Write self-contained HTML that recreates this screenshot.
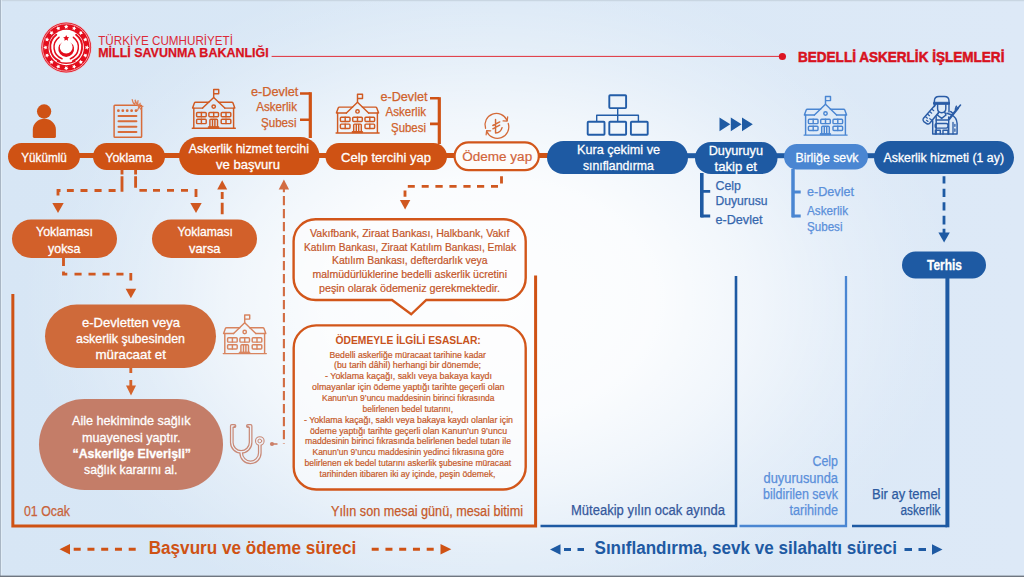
<!DOCTYPE html>
<html lang="tr">
<head>
<meta charset="utf-8">
<title>Bedelli Askerlik İşlemleri</title>
<style>
html,body{margin:0;padding:0;background:#d9e7f5;overflow:hidden;}
svg{display:block;}
text{font-family:"Liberation Sans",sans-serif;}
.w{fill:#fff;stroke:#fff;stroke-width:.3px;}
.o{fill:#c85a26;}
.b{fill:#2f5fa6;}
.lb{fill:#5a8fda;}
</style>
</head>
<body>
<svg width="1024" height="577" viewBox="0 0 1024 577">
<defs>
<linearGradient id="bgbase" x1="0" y1="0" x2="1" y2="0">
<stop offset="0" stop-color="#d7e6f5"/>
<stop offset="0.500" stop-color="#dae8f6"/>
<stop offset="1" stop-color="#dde9f7"/>
</linearGradient>
<radialGradient id="bg" cx="490" cy="300" r="470" gradientUnits="userSpaceOnUse" gradientTransform="translate(490 300) scale(1 0.720) translate(-490 -300)">
<stop offset="0" stop-color="#fff" stop-opacity="0.950"/>
<stop offset="0.350" stop-color="#fff" stop-opacity="0.880"/>
<stop offset="0.550" stop-color="#fff" stop-opacity="0.620"/>
<stop offset="0.750" stop-color="#fff" stop-opacity="0.280"/>
<stop offset="0.900" stop-color="#fff" stop-opacity="0.080"/>
<stop offset="1" stop-color="#fff" stop-opacity="0"/>
</radialGradient>
<symbol id="bld" viewBox="0 0 44 40" overflow="visible">
<g fill="none" stroke="currentColor" stroke-width="1.450" stroke-linejoin="round" stroke-linecap="round">
<path d="M21.700 8.600V0.700h5v4.200h-5"/>
<path d="M10.600 19.300L21.700 8.600L32.800 19.300"/>
<path d="M16.800 13.500H3.600Q2.700 13.500 2.400 14.300L0.600 19.300H10.600"/>
<path d="M26.600 13.500H39.800Q40.700 13.500 41 14.300L42.800 19.300H32.800"/>
<path d="M1.800 19.300V39.400M41.600 19.300V39.400M0.300 39.400H43.300"/>
<circle cx="21.700" cy="17.800" r="1.700"/>
<rect x="4.600" y="23.600" width="9.600" height="4.300" rx="0.900"/><path d="M9.400 23.600v4.300"/>
<rect x="16.900" y="23.600" width="9.600" height="4.300" rx="0.900"/><path d="M21.700 23.600v4.300"/>
<rect x="29.200" y="23.600" width="9.600" height="4.300" rx="0.900"/><path d="M34 23.600v4.300"/>
<rect x="4.600" y="30.500" width="9.600" height="4.300" rx="0.900"/><path d="M9.400 30.500v4.300"/>
<rect x="29.200" y="30.500" width="9.600" height="4.300" rx="0.900"/><path d="M34 30.500v4.300"/>
<path d="M17.900 37.500V31.500Q17.900 30.500 18.900 30.500H24.500Q25.500 30.500 25.500 31.500V37.500M20.500 30.500V37.500M22.900 30.500V37.500"/>
<path d="M16.700 37.900H26.800V39H16.700z" fill="currentColor" stroke-width="1"/>
</g>
</symbol>
</defs>
<rect width="1024" height="577" fill="url(#bgbase)"/>
<rect width="1024" height="577" fill="url(#bg)"/>
<!-- frame edges -->
<rect x="0" y="0" width="1024" height="1.2" fill="#c9d6e2"/>
<rect x="0" y="0" width="1" height="577" fill="#a9b6c4"/>
<rect x="1" y="0" width="1" height="577" fill="#e6eff8" fill-opacity="0.700"/>
<rect x="0" y="575.6" width="1024" height="1.4" fill="#6f7680"/>

<!-- HEADER -->
<g id="header">
<line x1="271.6" y1="56.4" x2="782" y2="56.4" stroke="#e0303a" stroke-width="1"/>
<circle cx="782.4" cy="56.5" r="3.6" fill="#dc1522"/>
<text x="98.2" y="44.6" font-size="12.7" fill="#dc2a38" textLength="134.8" lengthAdjust="spacingAndGlyphs">TÜRKİYE CUMHURİYETİ</text>
<text x="98.2" y="57.4" font-size="12.700" font-weight="bold" fill="#d8121e" stroke="#d8121e" stroke-width="0.250" textLength="170.5" lengthAdjust="spacingAndGlyphs">MİLLİ SAVUNMA BAKANLIĞI</text>
<text x="798" y="62.200" font-size="15" font-weight="bold" fill="#d8121e" stroke="#d8121e" stroke-width="0.550" textLength="206.4" lengthAdjust="spacingAndGlyphs">BEDELLİ ASKERLİK İŞLEMLERİ</text>
</g>

<!-- MAIN FLOW ROW -->
<g id="flow">
<!-- connectors -->
<rect x="78" y="153" width="18" height="5" fill="#cf5214"/>
<rect x="163" y="153" width="18" height="5" fill="#cf5214"/>
<rect x="317" y="153" width="11" height="5" fill="#cf5214"/>
<rect x="445" y="153" width="11" height="5" fill="#cf5214"/>
<rect x="538" y="153" width="11" height="5" fill="#cf5214"/>
<rect x="686" y="153.200" width="11" height="5" fill="#1e5aa3"/>
<rect x="775" y="153.200" width="11" height="5" fill="#1e5aa3"/>
<rect x="866" y="153.200" width="10" height="5" fill="#1e5aa3"/>
<!-- pills -->
<rect x="8" y="143" width="72" height="27" rx="13.5" fill="#cf5214"/>
<rect x="93" y="143" width="72" height="27" rx="13.5" fill="#cf5214"/>
<rect x="179" y="137" width="140.500" height="38" rx="19" fill="#cf5214"/>
<rect x="325.500" y="143" width="121.500" height="27" rx="13.5" fill="#cf5214"/>
<rect x="454.600" y="142.400" width="84.200" height="27.800" rx="13.900" fill="#fdfcfb" stroke="#d2561a" stroke-width="2.200"/>
<rect x="547" y="141" width="141" height="33" rx="16.5" fill="#1e5aa3"/>
<rect x="695" y="142" width="82.500" height="32" rx="16" fill="#1e5aa3"/>
<rect x="784" y="144" width="84" height="25.500" rx="12.75" fill="#4a86d2"/>
<rect x="874" y="141" width="140" height="33" rx="16.5" fill="#1e5aa3"/>
<!-- pill text -->
<text class="w" x="21.300" y="161.700" font-size="13.700" textLength="45.500" lengthAdjust="spacingAndGlyphs">Yükümlü</text>
<text class="w" x="105.300" y="161.800" font-size="13.700" textLength="47" lengthAdjust="spacingAndGlyphs">Yoklama</text>
<text class="w" x="188.700" y="153.1" font-size="13.700" textLength="120.300" lengthAdjust="spacingAndGlyphs">Askerlik hizmet tercihi</text>
<text class="w" x="216" y="169.3" font-size="13.700" textLength="64" lengthAdjust="spacingAndGlyphs">ve başvuru</text>
<text class="w" x="341" y="161.6" font-size="13.700" textLength="90" lengthAdjust="spacingAndGlyphs">Celp tercihi yap</text>
<text x="462.200" y="161.400" font-size="13.700" fill="#d2643a" stroke="#d2643a" stroke-width="0.200" textLength="70" lengthAdjust="spacingAndGlyphs">Ödeme yap</text>
<text class="w" x="577" y="153.6" font-size="13.700" textLength="83" lengthAdjust="spacingAndGlyphs">Kura çekimi ve</text>
<text class="w" x="583" y="170.1" font-size="13.700" textLength="70.700" lengthAdjust="spacingAndGlyphs">sınıflandırma</text>
<text class="w" x="708.700" y="155.1" font-size="13.700" textLength="54.300" lengthAdjust="spacingAndGlyphs">Duyuruyu</text>
<text class="w" x="714.500" y="170.6" font-size="13.700" textLength="42.500" lengthAdjust="spacingAndGlyphs">takip et</text>
<text class="w" x="795.500" y="161.6" font-size="13.700" textLength="63" lengthAdjust="spacingAndGlyphs">Birliğe sevk</text>
<text class="w" x="883.500" y="161.6" font-size="13.700" textLength="120.500" lengthAdjust="spacingAndGlyphs">Askerlik hizmeti (1 ay)</text>
</g>

<!-- BRACKETS + SIDE LABELS -->
<g id="brackets">
<path d="M300 93.500H310.300M300 119.800H310" fill="none" stroke="#cf5214" stroke-width="2.600"/><path d="M310.300 92.200V138" fill="none" stroke="#cf5214" stroke-width="3.200"/>
<path d="M430 98.300H439.300M430 123.900H439" fill="none" stroke="#cf5214" stroke-width="2.600"/><path d="M439.300 97.200V144" fill="none" stroke="#cf5214" stroke-width="3.200"/>
<path d="M701.800 173V217.400" fill="none" stroke="#1e5aa3" stroke-width="3.600"/><path d="M701 191.400H710.200M701 216H710.200" fill="none" stroke="#1e5aa3" stroke-width="2.900"/>
<path d="M793 169V217.400" fill="none" stroke="#4a86d2" stroke-width="3.500"/><path d="M792 192H800.700M792 216H800.700" fill="none" stroke="#4a86d2" stroke-width="2.900"/>
<g font-size="12" fill="#d0622c" stroke="#d0622c" stroke-width="0.250">
<text x="251" y="95.800" textLength="47.400" lengthAdjust="spacingAndGlyphs">e-Devlet</text>
<text x="256.200" y="111" textLength="40.800" lengthAdjust="spacingAndGlyphs">Askerlik</text>
<text x="260.900" y="126.600" textLength="35.600" lengthAdjust="spacingAndGlyphs">Şubesi</text>
<text x="380.500" y="101" textLength="47" lengthAdjust="spacingAndGlyphs">e-Devlet</text>
<text x="385.500" y="115.500" textLength="40.500" lengthAdjust="spacingAndGlyphs">Askerlik</text>
<text x="391" y="132.200" textLength="35" lengthAdjust="spacingAndGlyphs">Şubesi</text>
</g>
<g font-size="12.500" fill="#3566ad" stroke="#3566ad" stroke-width="0.250">
<text x="715.500" y="189.500" textLength="25.500" lengthAdjust="spacingAndGlyphs">Celp</text>
<text x="715.500" y="205" textLength="52" lengthAdjust="spacingAndGlyphs">Duyurusu</text>
<text x="715.500" y="223.500" textLength="47" lengthAdjust="spacingAndGlyphs">e-Devlet</text>
</g>
<g font-size="12.500" fill="#5a8fda" stroke="#5a8fda" stroke-width="0.250">
<text x="807" y="196" textLength="47" lengthAdjust="spacingAndGlyphs">e-Devlet</text>
<text x="807" y="215" textLength="41" lengthAdjust="spacingAndGlyphs">Askerlik</text>
<text x="807" y="230.500" textLength="35.500" lengthAdjust="spacingAndGlyphs">Şubesi</text>
</g>
</g>

<!-- DASHED ARROWS (orange) -->
<g id="dashes" fill="none" stroke="#d05820" stroke-width="2.850">
<path d="M122 169.500V174.400M122 176.300V191.800M108.600 190.500H115.600M94.500 190.500H101.600M80.500 190.500H87.500M66.900 190.500H73.800M60.500 190.500H56.700M58 189.200V195.600"/>
<path d="M135.600 169.500V174.400M135.600 176.300V187.700M139.400 190.400H146.900M153 190.400H160M167 190.400H174M181 190.400H188M196 189V197"/>
<path d="M222.200 192V199M222.200 202.700V214.300"/>
<path d="M501.500 176.200V183.400M491 186.300H498M477 186.300H484.200M463.400 186.300H470.600M449.400 186.300H456.600M435.400 186.300H442.700M421.700 186.300H428.700M407.800 186.300H414.800M405 190.400V196.700"/>
<path d="M63.500 258V265.900M63.500 271.600V275.400M62.200 274.100H67.300M74.500 274.100H81.600M88.500 274.100H95.600M102.500 274.100H109.600M116.400 274.100H123.500M130.800 273.100V280.500"/>
<path d="M130.800 368V372.900M130.800 379.900V386.500" stroke="#d4632b"/>
</g>
<path d="M283.900 189V443.400" fill="none" stroke="#d26c42" stroke-width="2.100" stroke-dasharray="9.200 3.800" stroke-dashoffset="6"/>
<g id="arrowheads" fill="#d05820">
<path d="M52.300 203H63.700L58 213z"/>
<path d="M190.300 203H201.700L196 213z"/>
<path d="M222.200 180.300L227.200 189.600H217.200z"/>
<path d="M283.900 179.600L289.100 189.400H278.700z" fill="#d26c42"/>
<path d="M399.900 199.900H410.300L405.100 209.500z"/>
<path d="M125.600 288.700H136.200L130.900 298.300z"/>
<path d="M126 385.400H136L131 395.500z" fill="#d4632b"/>
</g>

<!-- SECONDARY PILLS -->
<g id="pills2">
<rect x="12" y="219.500" width="105" height="38.500" rx="19.250" fill="#d2602a"/>
<rect x="152" y="219.500" width="105" height="38.500" rx="19.250" fill="#d2602a"/>
<rect x="45" y="304.500" width="171" height="63.500" rx="31.750" fill="#cf6a3a"/>
<rect x="39" y="399" width="184" height="91" rx="45.500" fill="#c47d68"/>
<g class="w" font-size="13.500">
<text x="36" y="236" textLength="57" lengthAdjust="spacingAndGlyphs">Yoklaması</text>
<text x="48" y="253" textLength="32.500" lengthAdjust="spacingAndGlyphs">yoksa</text>
<text x="177.500" y="236" textLength="55.500" lengthAdjust="spacingAndGlyphs">Yoklaması</text>
<text x="189" y="253" textLength="31.500" lengthAdjust="spacingAndGlyphs">varsa</text>
<text x="82" y="327" textLength="98" lengthAdjust="spacingAndGlyphs">e-Devletten veya</text>
<text x="76" y="343" textLength="109" lengthAdjust="spacingAndGlyphs">askerlik şubesinden</text>
<text x="95.500" y="359" textLength="70.500" lengthAdjust="spacingAndGlyphs">müracaat et</text>
<text x="72" y="425" textLength="118.500" lengthAdjust="spacingAndGlyphs">Aile hekiminde sağlık</text>
<text x="82" y="442" textLength="98.500" lengthAdjust="spacingAndGlyphs">muayenesi yaptır.</text>
<text x="72.500" y="457.500" font-weight="bold" textLength="118.500" lengthAdjust="spacingAndGlyphs">“Askerliğe Elverişli”</text>
<text x="84" y="474" textLength="93.500" lengthAdjust="spacingAndGlyphs">sağlık kararını al.</text>
</g>
</g>

<!-- TERHIS -->
<g id="terhis">
<path d="M944 176.200V183.500M944 188.700V197M944 202.200V210.500M944 215.700V224.500M944 228.800V233" fill="none" stroke="#1e5aa3" stroke-width="2.800"/>
<path d="M938.400 232.400H949.800L944.100 242.400z" fill="#1e5aa3"/>
<rect x="945.400" y="277" width="4" height="250.300" fill="#1e5aa3"/>
<rect x="902" y="251.500" width="84" height="27" rx="13.500" fill="#1e5aa3"/>
<text class="w" x="927" y="269.500" font-size="14" font-weight="bold" textLength="35" lengthAdjust="spacingAndGlyphs">Terhis</text>
</g>

<!-- SPEECH BUBBLE + INFO BOX -->
<g id="boxes">
<path d="M315.6 219.3H503.7A22 22 0 0 1 525.7 241.3V278.0A22 22 0 0 1 503.7 300.0H426.300L411.200 314.300L392 300.0H315.6A22 22 0 0 1 293.6 278.0V241.3A22 22 0 0 1 315.6 219.3z" fill="#fdfdfe" fill-opacity="0.550" stroke="#d2561a" stroke-width="2.400" stroke-linejoin="miter"/>
<rect x="293.700" y="325.400" width="232" height="164.100" rx="22.500" fill="#fdfdfe" fill-opacity="0.550" stroke="#d2561a" stroke-width="2.400"/>
<g font-size="11.500" fill="#c4562a" stroke="#c4562a" stroke-width="0.220">
<text x="310.0" y="237.0" textLength="199.5" lengthAdjust="spacingAndGlyphs">Vakıfbank, Ziraat Bankası, Halkbank, Vakıf</text>
<text x="304.0" y="250.5" textLength="212.0" lengthAdjust="spacingAndGlyphs">Katılım Bankası, Ziraat Katılım Bankası, Emlak</text>
<text x="332.0" y="264.0" textLength="155.5" lengthAdjust="spacingAndGlyphs">Katılım Bankası, defterdarlık veya</text>
<text x="312.5" y="278.0" textLength="194.5" lengthAdjust="spacingAndGlyphs">malmüdürlüklerine bedelli askerlik ücretini</text>
<text x="319.0" y="292.0" textLength="181.0" lengthAdjust="spacingAndGlyphs">peşin olarak ödemeniz gerekmektedir.</text>
</g>
<text x="335.500" y="344" font-size="11.200" font-weight="bold" fill="#c8531c" textLength="145.300" lengthAdjust="spacingAndGlyphs">ÖDEMEYLE İLGİLİ ESASLAR:</text>
<g font-size="9.200" fill="#c65a2a" stroke="#c65a2a" stroke-width="0.220">
<text x="329.5" y="357.5" textLength="156.5" lengthAdjust="spacingAndGlyphs">Bedelli askerliğe müracaat tarihine kadar</text>
<text x="334.0" y="368.2" textLength="147.0" lengthAdjust="spacingAndGlyphs">(bu tarih dâhil) herhangi bir dönemde;</text>
<text x="325.0" y="379.0" textLength="167.0" lengthAdjust="spacingAndGlyphs">- Yoklama kaçağı, saklı veya bakaya kaydı</text>
<text x="312.0" y="390.0" textLength="192.5" lengthAdjust="spacingAndGlyphs">olmayanlar için ödeme yaptığı tarihte geçerli olan</text>
<text x="322.0" y="401.0" textLength="172.5" lengthAdjust="spacingAndGlyphs">Kanun’un 9’uncu maddesinin birinci fıkrasında</text>
<text x="362.5" y="412.0" textLength="90.5" lengthAdjust="spacingAndGlyphs">belirlenen bedel tutarını,</text>
<text x="304.0" y="422.7" textLength="209.0" lengthAdjust="spacingAndGlyphs">- Yoklama kaçağı, saklı veya bakaya kaydı olanlar için</text>
<text x="310.0" y="433.8" textLength="197.0" lengthAdjust="spacingAndGlyphs">ödeme yaptığı tarihte geçerli olan Kanun’un 9’uncu</text>
<text x="305.0" y="444.4" textLength="206.0" lengthAdjust="spacingAndGlyphs">maddesinin birinci fıkrasında belirlenen bedel tutarı ile</text>
<text x="312.5" y="455.1" textLength="191.5" lengthAdjust="spacingAndGlyphs">Kanun’un 9’uncu maddesinin yedinci fıkrasına göre</text>
<text x="304.5" y="466.3" textLength="206.5" lengthAdjust="spacingAndGlyphs">belirlenen ek bedel tutarını askerlik şubesine müracaat</text>
<text x="319.5" y="477.0" textLength="176.0" lengthAdjust="spacingAndGlyphs">tarihinden itibaren iki ay içinde, peşin ödemek,</text>
</g>
</g>

<!-- FRAMES -->
<g id="frames" fill="none">
<path d="M12.850 294V526H535.600V275.600" stroke="#cf5214" stroke-width="3"/>
<path d="M540.500 526H736V276" stroke="#1e5aa3" stroke-width="2.600"/>
<path d="M739.500 526H846V276" stroke="#4a86d2" stroke-width="2.300"/>
<path d="M852 526H947" stroke="#1e5aa3" stroke-width="2.600"/>
</g>

<!-- BOTTOM LABELS -->
<g id="labels">
<text x="24" y="515.500" font-size="14" fill="#c8623a" stroke="#c8623a" stroke-width="0.250" textLength="46" lengthAdjust="spacingAndGlyphs">01 Ocak</text>
<text x="331" y="515.500" font-size="14" fill="#c65a2a" stroke="#c65a2a" stroke-width="0.250" textLength="192" lengthAdjust="spacingAndGlyphs">Yılın son mesai günü, mesai bitimi</text>
<text x="571" y="515" font-size="14" fill="#35589c" stroke="#35589c" stroke-width="0.250" textLength="154" lengthAdjust="spacingAndGlyphs">Müteakip yılın ocak ayında</text>
<g font-size="14" fill="#5a8fda" stroke="#5a8fda" stroke-width="0.250">
<text x="812.500" y="466" textLength="25.500" lengthAdjust="spacingAndGlyphs">Celp</text>
<text x="763.500" y="482.500" textLength="74.500" lengthAdjust="spacingAndGlyphs">duyurusunda</text>
<text x="763" y="499" textLength="75" lengthAdjust="spacingAndGlyphs">bildirilen sevk</text>
<text x="789.500" y="515" textLength="48.500" lengthAdjust="spacingAndGlyphs">tarihinde</text>
</g>
<g font-size="14" fill="#2c5aa0" stroke="#2c5aa0" stroke-width="0.250">
<text x="872" y="499" textLength="68.500" lengthAdjust="spacingAndGlyphs">Bir ay temel</text>
<text x="900.500" y="515" textLength="40" lengthAdjust="spacingAndGlyphs">askerlik</text>
</g>
<!-- bottom headings -->
<text x="148.700" y="553.800" font-size="18" font-weight="bold" fill="#cf5214" textLength="207.500" lengthAdjust="spacingAndGlyphs">Başvuru ve ödeme süreci</text>
<text x="594.500" y="553.800" font-size="18" font-weight="bold" fill="#1e5aa3" textLength="302.500" lengthAdjust="spacingAndGlyphs">Sınıflandırma, sevk ve silahaltı süreci</text>
<path d="M59.500 549.300L70 544V554.600z" fill="#cf5214"/>
<path d="M73.700 549.300H136" stroke="#cf5214" stroke-width="3" stroke-dasharray="7 6.750" fill="none"/>
<path d="M371.700 549.300H434" stroke="#cf5214" stroke-width="3" stroke-dasharray="7 6.750" fill="none"/>
<path d="M451.300 549.300L440.500 544V554.600z" fill="#cf5214"/>
<path d="M550 549.500L560.500 544.200V554.800z" fill="#1e5aa3"/>
<path d="M564 549.500H584" stroke="#1e5aa3" stroke-width="3" stroke-dasharray="7 6.500" fill="none"/>
<path d="M904.500 549.500H926" stroke="#1e5aa3" stroke-width="3" stroke-dasharray="7.500 6.500" fill="none"/>
<path d="M942.500 549.500L932 544.200V554.800z" fill="#1e5aa3"/>
</g>

<!-- LOGO -->
<g id="logo">
<circle cx="66.200" cy="47.500" r="25.600" fill="#f5b5ba" fill-opacity="0.55"/>
<circle cx="66.200" cy="47.500" r="24.900" fill="#e30d1c"/>
<circle cx="66.200" cy="47.500" r="23.700" fill="none" stroke="#fbd3d6" stroke-width="0.700"/>
<circle cx="66.200" cy="47.500" r="17.700" fill="#fff"/>
<g fill="#fff"><polygon points="66.20,24.50 66.88,25.87 68.39,26.09 67.29,27.16 67.55,28.66 66.20,27.95 64.85,28.66 65.11,27.16 64.01,26.09 65.52,25.87"/><polygon points="75.00,26.25 75.10,27.77 76.41,28.56 75.00,29.12 74.66,30.61 73.68,29.44 72.16,29.58 72.98,28.29 72.37,26.88 73.85,27.26"/><polygon points="82.46,31.24 81.97,32.68 82.89,33.91 81.36,33.89 80.48,35.13 80.02,33.68 78.57,33.22 79.81,32.34 79.79,30.81 81.02,31.73"/><polygon points="87.45,38.70 86.44,39.85 86.82,41.33 85.41,40.72 84.12,41.54 84.26,40.02 83.09,39.04 84.58,38.70 85.14,37.29 85.93,38.60"/><polygon points="89.20,47.50 87.83,48.18 87.61,49.69 86.54,48.59 85.04,48.85 85.75,47.50 85.04,46.15 86.54,46.41 87.61,45.31 87.83,46.82"/><polygon points="87.45,56.30 85.93,56.40 85.14,57.71 84.58,56.30 83.09,55.96 84.26,54.98 84.12,53.46 85.41,54.28 86.82,53.67 86.44,55.15"/><polygon points="82.46,63.76 81.02,63.27 79.79,64.19 79.81,62.66 78.57,61.78 80.02,61.32 80.48,59.87 81.36,61.11 82.89,61.09 81.97,62.32"/><polygon points="75.00,68.75 73.85,67.74 72.37,68.12 72.98,66.71 72.16,65.42 73.68,65.56 74.66,64.39 75.00,65.88 76.41,66.44 75.10,67.23"/><polygon points="66.20,70.50 65.52,69.13 64.01,68.91 65.11,67.84 64.85,66.34 66.20,67.05 67.55,66.34 67.29,67.84 68.39,68.91 66.88,69.13"/><polygon points="57.40,68.75 57.30,67.23 55.99,66.44 57.40,65.88 57.74,64.39 58.72,65.56 60.24,65.42 59.42,66.71 60.03,68.12 58.55,67.74"/><polygon points="49.94,63.76 50.43,62.32 49.51,61.09 51.04,61.11 51.92,59.87 52.38,61.32 53.83,61.78 52.59,62.66 52.61,64.19 51.38,63.27"/><polygon points="44.95,56.30 45.96,55.15 45.58,53.67 46.99,54.28 48.28,53.46 48.14,54.98 49.31,55.96 47.82,56.30 47.26,57.71 46.47,56.40"/><polygon points="43.20,47.50 44.57,46.82 44.79,45.31 45.86,46.41 47.36,46.15 46.65,47.50 47.36,48.85 45.86,48.59 44.79,49.69 44.57,48.18"/><polygon points="44.95,38.70 46.47,38.60 47.26,37.29 47.82,38.70 49.31,39.04 48.14,40.02 48.28,41.54 46.99,40.72 45.58,41.33 45.96,39.85"/><polygon points="49.94,31.24 51.38,31.73 52.61,30.81 52.59,32.34 53.83,33.22 52.38,33.68 51.92,35.13 51.04,33.89 49.51,33.91 50.43,32.68"/><polygon points="57.40,26.25 58.55,27.26 60.03,26.88 59.42,28.29 60.24,29.58 58.72,29.44 57.74,30.61 57.40,29.12 55.99,28.56 57.30,27.77"/></g>
<g fill="none" stroke="#e30d1c" stroke-linecap="round">
<path d="M56.300 34.800A15.300 15.300 0 0 0 59.500 61" stroke-width="1.900"/>
<path d="M59 37.300A12.300 12.300 0 0 0 62 58.700" stroke-width="1.500"/>
<path d="M76.100 34.800A15.300 15.300 0 0 1 72.900 61" stroke-width="1.900"/>
<path d="M73.400 37.300A12.300 12.300 0 0 1 70.400 58.700" stroke-width="1.500"/>
<path d="M57.500 61.300Q66.200 65.300 74.900 61.300" stroke-width="1.400"/>
</g>
<path d="M62.280 42.140A7.900 7.900 0 1 0 70.120 42.140A6.400 6.400 0 1 1 62.280 42.140z" fill="#e30d1c"/>
<g fill="#e30d1c"><polygon points="66.20,35.00 67.14,36.91 69.24,37.21 67.72,38.69 68.08,40.79 66.20,39.80 64.32,40.79 64.68,38.69 63.16,37.21 65.26,36.91"/></g>
</g>

<!-- ICONS -->
<g id="icons">
<!-- person -->
<circle cx="44.100" cy="111.500" r="7.150" fill="#cf5214"/>
<path d="M32.800 136.600V129.500A11.550 10.700 0 0 1 55.900 129.500V136.600Q55.900 137.900 54.600 137.900H34.100Q32.800 137.900 32.800 136.600z" fill="#cf5214"/>
<!-- document -->
<g fill="none" stroke="#d86c3a" stroke-linecap="round">
<rect x="114.100" y="105.300" width="27.500" height="32" rx="0.800" stroke-width="1.500"/>
<path d="M118.400 110.700H136.100" stroke-width="2.800" stroke-dasharray="0.010 4.390"/>
<path d="M118.500 115.900H136.400M118.500 121.300H136.400M118.500 126.700H136.400M118.500 132H136.400" stroke-width="2"/>
<path d="M132.200 99.600Q132.800 103 134.600 104.600Q136 102 135 99.800Q136.500 104 138.300 106.200L141.300 109.600M138 100.600Q137 104.500 139 106Q141 107 143 106.300M140.200 103.200L137.600 110.400" stroke-width="1.200" stroke="#dc7c52"/>
</g>
<!-- buildings -->
<use href="#bld" x="192" y="88.800" width="44" height="40" color="#d05a22"/>
<use href="#bld" x="335.800" y="93.600" width="44" height="40" color="#d05a22"/>
<use href="#bld" x="223" y="314.200" width="44" height="40" color="#d8845f"/>
<use href="#bld" x="803.800" y="95.700" width="44" height="40" color="#4a86d2"/>
<!-- lira -->
<g transform="translate(497 125) scale(0.970) translate(-497 -125) translate(0 0.900)" fill="none" stroke="#d46a38" stroke-width="1.300" stroke-linecap="round" stroke-linejoin="round">
<path d="M485.200 127.500A11.800 11.800 0 0 1 507.300 119.300"/>
<path d="M508.600 122.500A11.800 11.800 0 0 1 486.500 130.700"/>
<path d="M503.300 119.900L507.500 120L508 115.800"/>
<path d="M490.500 130.100L486.300 130L485.800 134.200"/>
<path d="M495.500 118.500V132.300Q500.800 132 502.200 126.800M492.700 124.600L499.800 120.900M492.700 128L499.800 124.300" stroke-width="1.500"/>
</g>
<!-- org chart -->
<g fill="none" stroke="#235da8" stroke-width="1.900" stroke-linejoin="round">
<rect x="609.300" y="95.200" width="16.800" height="12.900" rx="0.800"/>
<rect x="587.700" y="121.800" width="16.800" height="12.900" rx="0.800"/>
<rect x="609.300" y="121.800" width="16.800" height="12.900" rx="0.800"/>
<rect x="630.900" y="121.800" width="16.800" height="12.900" rx="0.800"/>
<path d="M617.700 108.200V121.600M596.700 121.600V115.200H638.400V121.600" stroke-width="1.400"/>
</g>
<!-- triple arrows -->
<path d="M719.500 117.500L730.300 124.300L719.500 131.200zM730.800 117.500L741.600 124.300L730.800 131.200zM742 117.500L752.800 124.300L742 131.200z" fill="#1e5aa3"/>
<!-- stethoscope -->
<g fill="none" stroke-linecap="round" stroke-linejoin="round">
<g stroke="#c98a78">
<path d="M234.500 426H231.800V442.500A9.400 9.400 0 0 0 250.600 442.500V426H247.900" stroke-width="3.800"/>
<path d="M241.200 452V453A9.300 9.300 0 0 0 259.800 453V445" stroke-width="3.800"/>
<circle cx="259.800" cy="441" r="4.300" stroke-width="1.100" fill="#edf2f9"/>
</g>
<g stroke="#edf2f9">
<path d="M234.500 426H231.800V442.500A9.400 9.400 0 0 0 250.600 442.500V426H247.900" stroke-width="1.300"/>
<path d="M241.200 452V453A9.300 9.300 0 0 0 259.800 453V443" stroke-width="1.300"/>
</g>
<circle cx="259.800" cy="441" r="1.900" stroke="#c98a78" stroke-width="1"/>
<circle cx="234.600" cy="426.600" r="1.100" fill="#c98a78"/>
<circle cx="247.800" cy="426.600" r="1.100" fill="#c98a78"/>
</g>
<circle cx="272" cy="444" r="2.100" fill="#cc7f68"/>
<path d="M272 444H277.500" stroke="#cc7f68" stroke-width="1.600"/>
<!-- soldier -->
<g fill="none" stroke="#2a5ca6" stroke-width="1.450" stroke-linejoin="round" stroke-linecap="round">
<path d="M934.400 102.400V100.900Q934.400 96.500 939 96.500H944.400Q949 96.500 949 100.900V102.400"/>
<path d="M933.900 102.300H949.500V104.300H933.900z" fill="#2a5ca6" stroke-width="1"/>
<path d="M937.600 104.600V108.600Q937.600 112.700 941.700 112.700Q945.800 112.700 945.800 108.600V104.600"/>
<path d="M949 104.400V112M934.500 104.400V106.500"/>
<path d="M938.600 112.400L937.300 115L941.700 118.400L946 115L944.800 112.400"/>
<path d="M935.400 104.800L923.300 118.500Q922.300 120.300 923.800 121.600L927 123.800Q928.600 124.400 929.700 123.200L938 113.200"/>
<path d="M925.600 116.800L927.400 118.200M927.700 114.300L929.500 115.700M929.900 111.800L931.700 113.200M932 109.300L933.800 110.700M931.600 120L929.800 118.700M926.500 120.300L928 121.400" stroke-width="1.200"/>
<path d="M932.700 120.800V133.900H957.100V123.500Q956.600 117.300 951.300 114.700L946.800 113.300"/>
<path d="M936.200 116.800V133.900M948.700 117V133.900"/>
<path d="M936.200 120H948.700"/>
<rect x="935.200" y="123.500" width="12.800" height="4.600" rx="1.800"/>
<path d="M935.400 133.900V130.300H940.300V133.900M943 133.900V130.300H948V133.900"/>
<path d="M949.400 118.800L958 108" stroke-width="2.300"/>
<path d="M958 108L960.500 105.100M955.400 109.200L956.400 106.300M952.300 112.800L950.800 111.600" stroke-width="1.600"/>
<path d="M953 122.300V133.900M954.900 124.300V126.300M954.900 129V131.300" stroke-width="1.300"/>
</g>
</g>

</svg>
</body>
</html>
